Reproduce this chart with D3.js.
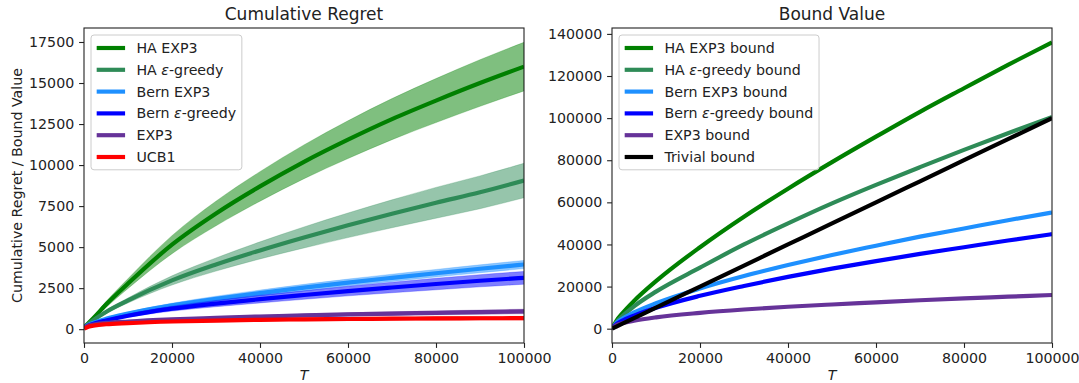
<!DOCTYPE html>
<html>
<head>
<meta charset="utf-8">
<script src="https://cdn.jsdelivr.net/npm/d3@7"></script>
<style>
  body { margin: 0; background: #fff; }
  svg { font-family: "DejaVu Sans", sans-serif; }
</style>
</head>
<body>
<svg id="chart" width="1079" height="383"></svg>
<script>
// horizon T (shared by both panels)
const T = [0, 1000, 2500, 5000, 10000, 20000, 30000, 40000, 50000, 60000, 70000, 80000, 90000, 100000];

// left panel: mean cumulative regret and half width of the shaded band
const haExp3 = [100, 370, 780, 1500, 2780, 5150, 7050, 8700, 10200, 11550, 12800, 13930, 15000, 16000];
const haExp3Err = [0, 50, 100, 180, 300, 550, 750, 900, 1030, 1150, 1250, 1340, 1420, 1480];
const haGreedy = [100, 320, 620, 1050, 1750, 2970, 3940, 4800, 5590, 6330, 7030, 7700, 8340, 9060];
const haGreedyErr = [0, 30, 60, 100, 150, 280, 400, 520, 640, 750, 850, 940, 1000, 1050];
const bernExp3 = [100, 260, 420, 630, 950, 1450, 1850, 2200, 2530, 2840, 3130, 3410, 3680, 3940];
const bernExp3Err = [0, 20, 40, 60, 90, 130, 160, 180, 200, 210, 220, 230, 240, 250];
const bernGreedy = [100, 220, 360, 530, 820, 1250, 1560, 1830, 2080, 2320, 2540, 2750, 2950, 3130];
const bernGreedyErr = [0, 20, 40, 70, 100, 150, 190, 230, 260, 290, 320, 350, 370, 390];
const exp3 = [100, 220, 300, 380, 470, 600, 690, 770, 840, 900, 950, 995, 1040, 1080];
const exp3Err = [0, 20, 30, 40, 50, 60, 70, 80, 90, 100, 110, 120, 130, 140];
const ucb1 = [30, 150, 230, 300, 370, 470, 525, 570, 600, 620, 640, 655, 665, 670];
const ucb1Err = [0, 30, 40, 50, 60, 70, 80, 85, 90, 95, 100, 105, 110, 110];

// right panel: bound values
const haExp3Bound = [0, 3740, 7630, 13150, 22570, 38700, 53200, 66500, 79100, 91200, 103000, 114200, 125300, 136000];
const haGreedyBound = [0, 3100, 6200, 10600, 17600, 29000, 40000, 50000, 59500, 68300, 76700, 84900, 92800, 100500];
const bernExp3Bound = [0, 2650, 4900, 7700, 12100, 19100, 25000, 30200, 35000, 39400, 43700, 47600, 51500, 55200];
const bernGreedyBound = [0, 2150, 3950, 6200, 9900, 15600, 20300, 24600, 28500, 32100, 35500, 38700, 41900, 44900];
const exp3Bound = [0, 1700, 2700, 3800, 5400, 7500, 9100, 10400, 11500, 12500, 13500, 14400, 15200, 16000];
const trivialBound = [0, 1000, 2500, 5000, 10000, 20000, 30000, 40000, 50000, 60000, 70000, 80000, 90000, 100000];

// tick labels
const xTicks = [0, 20000, 40000, 60000, 80000, 100000];
const leftTicks = [0, 2500, 5000, 7500, 10000, 12500, 15000, 17500];
const rightTicks = [0, 20000, 40000, 60000, 80000, 100000, 120000, 140000];

const regretSeries = [
  {label: "HA EXP3", eps: false, color: "#008000", mean: haExp3, err: haExp3Err},
  {label: "HA |-greedy", eps: true, color: "#2e8b57", mean: haGreedy, err: haGreedyErr},
  {label: "Bern EXP3", eps: false, color: "#1e90ff", mean: bernExp3, err: bernExp3Err},
  {label: "Bern |-greedy", eps: true, color: "#0000ff", mean: bernGreedy, err: bernGreedyErr},
  {label: "EXP3", eps: false, color: "#663399", mean: exp3, err: exp3Err},
  {label: "UCB1", eps: false, color: "#ff0000", mean: ucb1, err: ucb1Err}
];

const boundSeries = [
  {label: "HA EXP3 bound", eps: false, color: "#008000", mean: haExp3Bound},
  {label: "HA |-greedy bound", eps: true, color: "#2e8b57", mean: haGreedyBound},
  {label: "Bern EXP3 bound", eps: false, color: "#1e90ff", mean: bernExp3Bound},
  {label: "Bern |-greedy bound", eps: true, color: "#0000ff", mean: bernGreedyBound},
  {label: "EXP3 bound", eps: false, color: "#663399", mean: exp3Bound},
  {label: "Trivial bound", eps: false, color: "#000000", mean: trivialBound}
];

const svg = d3.select("#chart");
const fs = 14.2;      // tick / legend font
const lw = 4.17;      // 3pt lines
const plotTop = 28, plotBottom = 343;

function panel(left, width, title, series, yTicks, withBands) {
  const g = svg.append("g");
  const x = d3.scaleLinear().domain([0, 100000]).range([left, left + width]);

  // matplotlib style 5% margin on y
  let lo = Infinity, hi = -Infinity;
  series.forEach(s => s.mean.forEach((v, i) => {
    const e = s.err ? s.err[i] : 0;
    lo = Math.min(lo, v - e);
    hi = Math.max(hi, v + e);
  }));
  const pad = (hi - lo) * 0.05;
  const y = d3.scaleLinear().domain([lo - pad, hi + pad]).range([plotBottom, plotTop]);

  const clipId = "clip" + left;
  svg.append("clipPath").attr("id", clipId)
    .append("rect").attr("x", left).attr("y", plotTop).attr("width", width).attr("height", plotBottom - plotTop);

  const plot = g.append("g").attr("clip-path", `url(#${clipId})`);
  const line = d3.line().curve(d3.curveMonotoneX);
  const area = d3.area().curve(d3.curveMonotoneX);

  series.forEach(s => {
    const pts = T.map((t, i) => i);
    if (withBands) {
      plot.append("path")
        .attr("d", area.x(i => x(T[i])).y0(i => y(s.mean[i] - s.err[i])).y1(i => y(s.mean[i] + s.err[i]))(pts))
        .attr("fill", s.color)
        .attr("fill-opacity", 0.5)
        .attr("stroke", s.color)
        .attr("stroke-opacity", 0.25)
        .attr("stroke-width", 1);
    }
    plot.append("path")
      .attr("d", line.x(i => x(T[i])).y(i => y(s.mean[i]))(pts))
      .attr("fill", "none")
      .attr("stroke", s.color)
      .attr("stroke-width", lw);
  });

  // axes
  const xAxis = g.append("g")
    .attr("transform", `translate(0,${plotBottom})`)
    .call(d3.axisBottom(x).tickValues(xTicks).tickFormat(d3.format("d")).tickSize(4.9).tickPadding(4.9));
  const yAxis = g.append("g")
    .attr("transform", `translate(${left},0)`)
    .call(d3.axisLeft(y).tickValues(yTicks).tickFormat(d3.format("d")).tickSize(4.9).tickPadding(4.9));
  [xAxis, yAxis].forEach(a => {
    a.select(".domain").remove();
    a.selectAll("line").attr("stroke", "#222").attr("stroke-width", 1.1);
    a.selectAll("text").attr("font-size", fs).attr("fill", "#222").attr("font-family", "DejaVu Sans");
  });

  // frame
  g.append("rect")
    .attr("x", left).attr("y", plotTop).attr("width", width).attr("height", plotBottom - plotTop)
    .attr("fill", "none").attr("stroke", "#222").attr("stroke-width", 1.1);

  g.append("text")
    .attr("x", left + width / 2).attr("y", 20)
    .attr("text-anchor", "middle")
    .attr("font-size", 17)
    .attr("fill", "#222")
    .text(title);

  g.append("text")
    .attr("x", left + width / 2).attr("y", 379.5)
    .attr("text-anchor", "middle")
    .attr("font-size", fs)
    .attr("font-style", "italic")
    .attr("fill", "#222")
    .text("T");

  // legend
  const em = fs;
  const legX = left + 7, legY = plotTop + 7;
  const rowH = 21.8;
  const leg = g.append("g");
  const box = leg.append("rect")
    .attr("x", legX).attr("y", legY)
    .attr("rx", 3)
    .attr("fill", "#fff").attr("fill-opacity", 0.8)
    .attr("stroke", "#ccc").attr("stroke-width", 1);
  let maxW = 0;
  series.forEach((s, i) => {
    const cy = legY + 13 + i * rowH;
    leg.append("line")
      .attr("x1", legX + 0.4 * em).attr("x2", legX + 2.4 * em)
      .attr("y1", cy).attr("y2", cy)
      .attr("stroke", s.color).attr("stroke-width", lw);
    const t = leg.append("text")
      .attr("x", legX + 3.2 * em).attr("y", cy + 5)
      .attr("font-size", fs).attr("fill", "#222");
    const parts = s.label.split("|");
    t.append("tspan").text(parts[0]);
    if (s.eps) {
      t.append("tspan").attr("font-style", "italic").text("\u03b5");
      t.append("tspan").text(parts[1]);
    }
    maxW = Math.max(maxW, t.node().getComputedTextLength());
  });
  box.attr("width", 3.6 * em + maxW)
    .attr("height", series.length * rowH + 4);
}

panel(84, 440, "Cumulative Regret", regretSeries, leftTicks, true);
panel(612, 440, "Bound Value", boundSeries, rightTicks, false);

svg.append("text")
  .attr("transform", "translate(22,185.5) rotate(-90)")
  .attr("text-anchor", "middle")
  .attr("font-size", fs)
  .attr("fill", "#222")
  .text("Cumulative Regret / Bound Value");
</script>
</body>
</html>
